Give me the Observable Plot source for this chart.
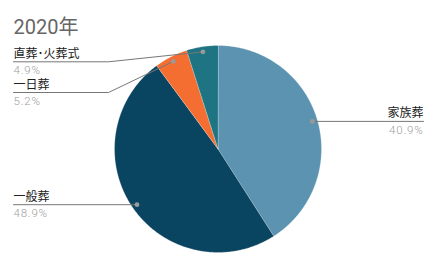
<!DOCTYPE html>
<html>
<head>
<meta charset="utf-8">
<script src="https://cdn.jsdelivr.net/npm/d3@7"></script>
<script src="https://cdn.jsdelivr.net/npm/@observablehq/plot@0.6"></script>
<style>
  html, body { margin: 0; padding: 0; background: #fff; }
  #chart svg { display: block; }
</style>
</head>
<body>
<div id="chart"></div>
<script>
// ---- data ----
const title = "2020年";
const categories = ["家族葬", "一般葬", "一日葬", "直葬･火葬式"];
const shares = [40.9, 48.9, 5.2, 4.9];
const percentLabels = ["40.9%", "48.9%", "5.2%", "4.9%"];
const colors = ["#5b93b1", "#094460", "#f46d31", "#1e7482"];

// ---- layout (pixels) ----
const W = 435, H = 265;
const cx = 217.5, cy = 148.5, R = 103.5;
const leftX = 13, rightX = 423, elbowX = 108;
// label line y for the small slices (pixels); others follow their dot
const labelLineY = {"一日葬": 92, "直葬･火葬式": 61.3};

// data coordinates: pixel offsets from pie centre, y up
const px = (x) => x - cx;
const py = (y) => cy - y;

const total = d3.sum(shares);
let acc = 0;
const slices = categories.map((c, i) => {
  const a0 = acc / total * 2 * Math.PI;
  acc += shares[i];
  const a1 = acc / total * 2 * Math.PI;
  return {name: c, value: shares[i], pct: percentLabels[i], a0, a1, mid: (a0 + a1) / 2};
});

// slice polygons
const slicePts = [];
for (const s of slices) {
  slicePts.push({name: s.name, x: 0, y: 0});
  const n = Math.max(2, Math.ceil((s.a1 - s.a0) / (Math.PI / 360)));
  for (let k = 0; k <= n; k++) {
    const a = s.a0 + (s.a1 - s.a0) * k / n;
    slicePts.push({name: s.name, x: R * Math.sin(a), y: R * Math.cos(a)});
  }
}

// leader lines, dots and labels
const dots = [], leaders = [], names = [], pcts = [];
for (const s of slices) {
  const dx = 0.95 * R * Math.sin(s.mid), dy = 0.95 * R * Math.cos(s.mid);
  const right = Math.sin(s.mid) > 0;
  dots.push({name: s.name, x: dx, y: dy});
  const ly = labelLineY[s.name] !== undefined ? py(labelLineY[s.name]) : dy;
  const endX = right ? px(rightX) : px(leftX);
  leaders.push({name: s.name, x: dx, y: dy});
  if (ly !== dy) leaders.push({name: s.name, x: px(elbowX), y: ly});
  leaders.push({name: s.name, x: endX, y: ly});
  names.push({text: s.name, x: endX, y: ly + 4, anchor: right ? "end" : "start"});
  pcts.push({text: s.pct, x: endX, y: ly - 12.5, anchor: right ? "end" : "start"});
}

const font = "Roboto, 'Noto Sans CJK JP', sans-serif";
const nameOpts = {x: "x", y: "y", text: "text", lineAnchor: "bottom", fontSize: 12, fill: "#222", fontFamily: font};
const pctOpts = {x: "x", y: "y", text: "text", lineAnchor: "bottom", fontSize: 11.5, fill: "#9e9e9e", fontFamily: "Roboto, sans-serif", fontWeight: 300};
const chart = Plot.plot({
  width: W,
  height: H,
  margin: 0,
  x: {domain: [px(0), px(W)], axis: null},
  y: {domain: [py(H), py(0)], axis: null},
  color: {domain: categories, range: colors},
  style: {background: "#fff", overflow: "visible"},
  marks: [
    Plot.line(slicePts, {x: "x", y: "y", z: "name", fill: "name", stroke: "#fff", strokeWidth: 0.5, strokeOpacity: 0.5, curve: "linear-closed"}),
    Plot.line(leaders, {x: "x", y: "y", z: "name", stroke: "#777", strokeWidth: 1}),
    Plot.dot(dots, {x: "x", y: "y", r: 2.4, fill: "#9a9a9a", stroke: "none"}),
    Plot.text(names.filter(d => d.anchor === "start"), {...nameOpts, textAnchor: "start"}),
    Plot.text(names.filter(d => d.anchor === "end"), {...nameOpts, textAnchor: "end"}),
    Plot.text(pcts.filter(d => d.anchor === "start"), {...pctOpts, textAnchor: "start"}),
    Plot.text(pcts.filter(d => d.anchor === "end"), {...pctOpts, textAnchor: "end"}),
    Plot.text([title], {x: px(13), y: py(33), text: d => d, textAnchor: "start", lineAnchor: "bottom", fontSize: 20, fill: "#666", fontFamily: font})
  ]
});

// letter spacing for percent labels
d3.select(chart).selectAll("text").filter(function() { return /%$/.test(this.textContent); })
  .style("letter-spacing", "0.8px");

document.getElementById("chart").appendChild(chart);
</script>
</body>
</html>
